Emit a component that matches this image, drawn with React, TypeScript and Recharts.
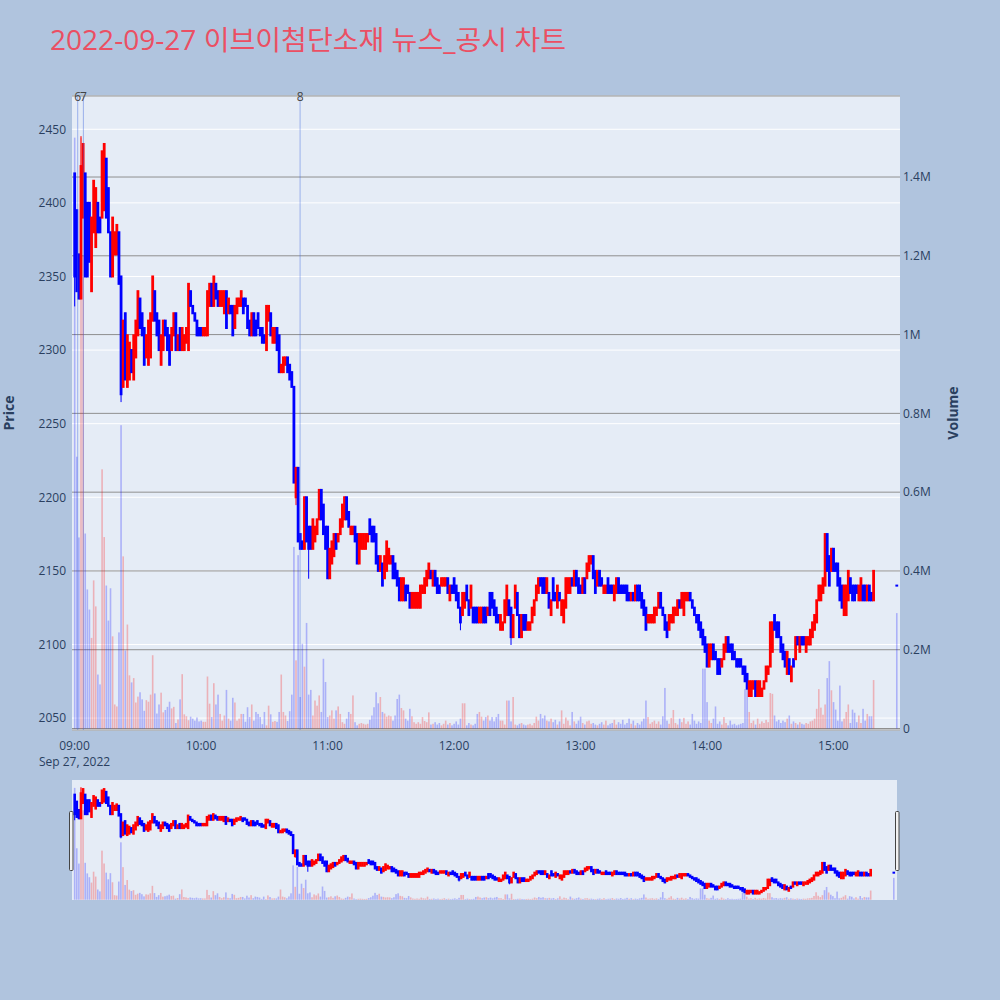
import React from 'react';
import { ComposedChart, Bar, XAxis, YAxis, CartesianGrid, ReferenceLine } from 'recharts';

// ---------------- data ----------------
const TITLE = '2022-09-27 이브이첨단소재 뉴스_공시 차트';
const DATE_LABEL = 'Sep 27, 2022';

// one candle per minute from 09:00 (minute 0) to 15:19 (minute 379), plus the 15:30 closing auction
const opens = [
  2420, 2395, 2365, 2335, 2390, 2420, 2400, 2400, 2340, 2380, 2370, 2400, 2390, 2390, 2395, 2430, 2410, 2380, 2350, 2365, 2365, 2380, 2350,
  2275, 2325, 2275, 2280, 2300, 2280, 2295, 2310, 2335, 2325, 2315, 2295, 2290, 2295, 2320, 2340, 2325, 2320, 2290, 2300, 2320, 2315, 2310, 2300, 2310, 2325, 2300, 2315, 2300,
  2300, 2305, 2300, 2340, 2330, 2325, 2320, 2315, 2315, 2310, 2310, 2310, 2330, 2345, 2330, 2345, 2340, 2330, 2330, 2325, 2340, 2325, 2330, 2330, 2315, 2325, 2330, 2330, 2335, 2335, 2330, 2320, 2310, 2325, 2320, 2325, 2315, 2315, 2310, 2300, 2320, 2325, 2305, 2305, 2315, 2310, 2285, 2285, 2290, 2295, 2290, 2285, 2275,
  2200, 2220, 2175, 2170, 2165, 2200, 2180, 2180, 2165, 2170, 2175, 2185, 2205, 2195, 2180, 2180, 2145, 2155, 2160, 2175, 2170, 2175, 2180, 2185, 2200, 2190, 2175, 2175, 2180, 2175, 2155, 2165, 2165, 2165, 2170, 2185, 2180, 2180, 2175, 2160, 2150, 2155, 2145, 2150, 2155, 2155, 2160, 2155, 2150, 2145, 2130, 2130,
  2140, 2140, 2135, 2125, 2125, 2125, 2125, 2125, 2135, 2135, 2140, 2145, 2150, 2140, 2150, 2145, 2140, 2140, 2140, 2140, 2145, 2130, 2140, 2145, 2140, 2135, 2125, 2120, 2125, 2140, 2130, 2125, 2125, 2125, 2125, 2115, 2115, 2125, 2125, 2120, 2135, 2135, 2130, 2125, 2120, 2110, 2110, 2115, 2120, 2130, 2125,
  2105, 2125, 2135, 2120, 2105, 2120, 2120, 2110, 2110, 2115, 2120, 2130, 2135, 2145, 2145, 2145, 2135, 2135, 2120, 2145, 2135, 2125, 2135, 2120, 2115, 2125, 2135, 2135, 2145, 2140, 2150, 2145, 2140, 2135, 2145, 2145, 2150, 2155, 2160, 2150, 2140, 2150, 2145, 2135, 2135, 2145, 2140, 2140, 2130, 2135, 2145, 2140, 2140, 2140, 2140, 2135, 2130, 2135,
  2130, 2140, 2140, 2135, 2130, 2125, 2115, 2115, 2115, 2115, 2120, 2125, 2135, 2125, 2120, 2115, 2110, 2115, 2115, 2120, 2120, 2130, 2125, 2120, 2130, 2130, 2135, 2130, 2125, 2120, 2120, 2115, 2110, 2105, 2100, 2085, 2090, 2100, 2095, 2090, 2090, 2085, 2090, 2095, 2105, 2100, 2100, 2095, 2090, 2090, 2090, 2085, 2085, 2080, 2065, 2065, 2070, 2075, 2065,
  2065, 2065, 2070, 2075, 2080, 2085, 2095, 2120, 2115, 2115, 2105, 2100, 2095, 2080, 2090, 2075, 2090, 2090, 2105, 2095, 2105, 2105, 2095, 2100, 2100, 2105, 2110, 2115, 2130, 2130, 2135, 2140, 2175, 2160, 2150, 2165, 2155, 2155, 2145, 2140, 2120, 2120, 2130, 2145, 2140, 2140, 2140, 2130, 2130, 2140, 2140, 2130, 2140, 2135, 2130,
  2140,
];
const closes = [
  2350, 2340, 2335, 2425, 2440, 2350, 2350, 2360, 2390, 2415, 2410, 2380, 2380, 2435, 2440, 2390, 2380, 2350, 2390, 2380, 2385, 2345, 2270,
  2320, 2280, 2310, 2305, 2285, 2310, 2320, 2340, 2315, 2310, 2290, 2310, 2320, 2325, 2350, 2320, 2310, 2300, 2310, 2320, 2310, 2300, 2290, 2315, 2325, 2300, 2310, 2300, 2315,
  2310, 2315, 2345, 2330, 2325, 2320, 2310, 2310, 2310, 2315, 2315, 2340, 2345, 2330, 2350, 2335, 2330, 2340, 2340, 2340, 2315, 2335, 2325, 2310, 2330, 2335, 2335, 2340, 2325, 2330, 2315, 2310, 2325, 2310, 2310, 2315, 2310, 2305, 2305, 2330, 2330, 2310, 2315, 2315, 2300, 2285, 2290, 2295, 2295, 2285, 2280, 2275, 2210,
  2220, 2170, 2165, 2165, 2200, 2170, 2165, 2165, 2185, 2180, 2185, 2205, 2185, 2175, 2165, 2145, 2165, 2170, 2175, 2165, 2175, 2185, 2195, 2200, 2185, 2180, 2180, 2180, 2170, 2155, 2175, 2175, 2175, 2175, 2175, 2175, 2170, 2170, 2155, 2150, 2160, 2140, 2160, 2170, 2165, 2160, 2145, 2145, 2140, 2130, 2145, 2145,
  2130, 2135, 2125, 2135, 2135, 2135, 2135, 2140, 2140, 2145, 2150, 2155, 2145, 2150, 2140, 2135, 2135, 2145, 2145, 2145, 2135, 2140, 2135, 2135, 2130, 2125, 2115, 2135, 2135, 2130, 2120, 2140, 2115, 2115, 2115, 2125, 2125, 2115, 2115, 2125, 2120, 2125, 2120, 2115, 2115, 2120, 2115, 2130, 2140, 2120, 2105,
  2120, 2140, 2120, 2105, 2120, 2110, 2110, 2115, 2115, 2125, 2130, 2140, 2145, 2140, 2135, 2135, 2145, 2125, 2130, 2130, 2130, 2140, 2130, 2130, 2130, 2145, 2145, 2145, 2140, 2150, 2140, 2135, 2135, 2145, 2135, 2155, 2160, 2160, 2145, 2135, 2150, 2140, 2140, 2140, 2140, 2135, 2135, 2135, 2140, 2145, 2135, 2135, 2135, 2135, 2130, 2130, 2135, 2130,
  2140, 2130, 2130, 2125, 2120, 2110, 2120, 2120, 2120, 2125, 2125, 2135, 2125, 2120, 2110, 2105, 2120, 2120, 2125, 2125, 2130, 2125, 2135, 2135, 2135, 2135, 2130, 2125, 2120, 2115, 2110, 2105, 2100, 2095, 2085, 2100, 2100, 2090, 2090, 2080, 2080, 2090, 2100, 2105, 2095, 2095, 2090, 2090, 2085, 2085, 2085, 2080, 2075, 2070, 2075, 2075, 2075, 2065, 2075,
  2075, 2070, 2075, 2085, 2085, 2115, 2115, 2110, 2105, 2105, 2095, 2090, 2085, 2095, 2080, 2085, 2085, 2105, 2100, 2105, 2100, 2100, 2105, 2105, 2110, 2115, 2120, 2130, 2140, 2140, 2145, 2175, 2150, 2140, 2165, 2150, 2150, 2140, 2130, 2125, 2140, 2140, 2150, 2135, 2130, 2130, 2135, 2140, 2145, 2130, 2130, 2140, 2130, 2130, 2150,
  2140,
];
// the few shadows (wicks) that reach clearly past the candle body
const wickMinutes = [0, 3, 22, 105, 111, 183, 207, 356];
const wickHighs = [2420, 2445, 2350, 2220, 2180, 2125, 2125, 2175];
const wickLows = [2330, 2335, 2265, 2195, 2145, 2110, 2100, 2140];

// traded volume per bar, in thousands of shares
const volumesK = [
  1500, 690, 485, 1500, 1200, 495, 353, 302, 230, 376, 310, 137, 112, 658, 486, 363, 274, 356, 234, 61, 56, 244, 770,
  437, 198, 264, 135, 117, 128, 66, 81, 92, 74, 45, 72, 68, 86, 186, 89, 38, 61, 91, 41, 47, 55, 68, 51, 55, 14, 23, 74, 138,
  36, 31, 21, 30, 25, 20, 28, 18,
  20, 17, 17, 132, 63, 29, 115, 61, 86, 37, 20, 33, 98, 25, 20, 78, 66, 20, 25, 37, 37, 17, 54, 29, 61, 20, 42, 37, 29, 11, 42, 8, 58, 36, 17, 19, 17, 42, 137, 42, 33, 19, 44, 86, 461, 173, 440, 80,
  215, 157, 268, 86, 98, 33, 71, 58, 84, 42, 177, 118, 29, 33, 46, 25, 46, 56, 37, 16, 12, 25, 42, 37, 84, 16, 8, 12, 14, 12, 10, 12, 22, 33, 54, 92, 64, 80, 42, 38, 30, 33, 31, 20, 33, 75, 86, 52, 46, 25, 20, 50, 31, 16, 12, 16, 12, 29, 19, 16, 41, 10,
  12, 16, 10, 14, 8, 12, 20, 10, 14, 8,
  12, 18, 10, 25, 64, 64, 8, 14, 10, 8,
  12, 37, 42, 30, 20, 29, 33, 20, 29, 18,
  29, 37, 20, 20, 10, 71, 71, 18, 80, 10,
  8, 12, 14, 10, 8, 10, 12, 8, 14, 30,
  20, 37, 26, 33, 20, 18, 25, 16, 22, 10,
  18, 46, 12, 28, 20, 8, 42, 18, 12, 20,
  30, 14, 10, 18, 20, 12, 14, 10, 8, 12,
  16, 10, 20, 8, 12, 14, 22, 10, 16, 12,
  22, 10, 14, 25, 12, 20, 8, 14, 10, 18,
  25, 71, 29, 12, 16, 20, 12, 18, 10, 31,
  103, 20, 12, 27, 47, 14, 10, 25, 16, 27,
  12, 18, 10, 37, 20, 12, 18, 14, 152, 152,
  67, 20, 14, 25, 56, 12, 18, 10, 29, 14,
  8, 20, 10, 12, 8, 10, 12, 14, 100, 100,
  42, 14, 20, 10, 25, 12, 18, 14, 22, 16,
  90, 88, 33, 18, 22, 14, 20, 16, 25, 33,
  12, 18, 14, 10, 16, 12, 10, 14, 12, 18,
  20, 25, 50, 100, 53, 35, 61, 128, 171, 97,
  67, 48, 20, 109, 18, 25, 42, 61, 14, 48,
  40, 16, 33, 14, 50, 20, 37, 31, 31, 123,
  293,
];
const closingAuctionMinute = 390;

const newsMinutes = [1.5, 4.2, 107];
const newsLabels = ['6', '7', '8'];

const timeTicks = [0, 60, 120, 180, 240, 300, 360];
const timeTickLabels = ['09:00', '10:00', '11:00', '12:00', '13:00', '14:00', '15:00'];
const priceTicks = [2050, 2100, 2150, 2200, 2250, 2300, 2350, 2400, 2450];
const volumeTicks = [0, 200000, 400000, 600000, 800000, 1000000, 1200000, 1400000];
const volumeTickLabels = ['0', '0.2M', '0.4M', '0.6M', '0.8M', '1M', '1.2M', '1.4M'];

const X_DOMAIN: [number, number] = [-1.2, 391.6];
const PRICE_DOMAIN: [number, number] = [2041.9, 2472.6];
const VOLUME_DOMAIN: [number, number] = [-3800, 1605700];

const rows = opens.map((o, i) => {
  const c = closes[i];
  const w = wickMinutes.indexOf(i);
  const hi = Math.max(o, c, w >= 0 ? wickHighs[w] : o);
  const lo = Math.min(o, c, w >= 0 ? wickLows[w] : o);
  return {
    t: i < opens.length - 1 ? i : closingAuctionMinute,
    o,
    c,
    hi,
    lo,
    range: [lo, hi],
    vol: volumesK[i] * 1000,
    up: c > o,
  };
});

// ---------------- styles ----------------
const PAGE_BG = '#B0C4DE';
const PLOT_BG = '#E5ECF6';
const RED = '#FF0000';
const BLUE = '#0000FF';
const TEXT = '#2a3f5f';
const FONT = '"Open Sans", "Noto Sans CJK KR", sans-serif';

// the bar spans [low, high]; the body is placed inside it proportionally
const makeCandle = (halfW: number, pad: number) => (props: any) => {
  const { x, y, width, height, payload } = props;
  if (x == null || y == null || !payload) return <g />;
  const cx = x + (width || 0) / 2;
  const hh = height || 0;
  const top = Math.min(y, y + hh);
  const h = Math.abs(hh);
  const { hi, lo, o, c } = payload;
  const pix = (v: number) => (hi === lo ? top : top + ((hi - v) / (hi - lo)) * h);
  const bTop = pix(Math.max(o, c));
  const bBot = pix(Math.min(o, c));
  const color = payload.up ? RED : BLUE;
  return (
    <g>
      <line x1={cx} x2={cx} y1={top - 0.5} y2={top + h + 0.5} stroke={color} strokeWidth={1} />
      <rect x={cx - halfW} y={bTop - pad} width={halfW * 2} height={bBot - bTop + pad * 2} fill={color} />
    </g>
  );
};

const makeVolume = (halfW: number) => (props: any) => {
  const { x, y, width, height, payload } = props;
  if (x == null || y == null || !payload) return <g />;
  const cx = x + (width || 0) / 2;
  const hh = height || 0;
  const top = Math.min(y, y + hh);
  return (
    <rect
      x={cx - halfW}
      y={top}
      width={halfW * 2}
      height={Math.abs(hh)}
      fill={payload.up ? 'rgba(255,0,0,0.25)' : 'rgba(0,0,255,0.25)'}
    />
  );
};

const MainCandle = makeCandle(1.4, 1);
const MainVolume = makeVolume(0.8);
const MiniCandle = makeCandle(1.3, 1);
const MiniVolume = makeVolume(0.8);

const TimeTick = (props: any) => {
  const { x, y, payload } = props;
  const idx = timeTicks.indexOf(payload.value);
  return (
    <g>
      <text x={x} y={y + 18} textAnchor="middle" fill={TEXT} fontSize={12} fontFamily={FONT}>
        {timeTickLabels[idx]}
      </text>
      {idx === 0 && (
        <text x={x} y={y + 34} textAnchor="middle" fill={TEXT} fontSize={12} fontFamily={FONT}>
          {DATE_LABEL}
        </text>
      )}
    </g>
  );
};

const NewsLabel = (text: string) => (props: any) => {
  const vb = props.viewBox || {};
  return (
    <text x={vb.x} y={(vb.y || 0) + 5} textAnchor="middle" fill="#444" fontSize={12} fontFamily={FONT}>
      {text}
    </text>
  );
};

export default function App() {
  return (
    <div style={{ position: 'fixed', left: 0, top: 0, width: 1000, height: 1000, background: PAGE_BG, overflow: 'hidden' }}>
      <div style={{ position: 'absolute', left: 0, top: 0 }}>
        <ComposedChart width={1000} height={780} data={rows} margin={{ top: 96, right: 0, bottom: 0, left: 0 }}>
          <CartesianGrid xAxisId="main" yAxisId="price" vertical={false} stroke="#FFFFFF" fill={PLOT_BG} fillOpacity={1} />
          <CartesianGrid xAxisId="main" yAxisId="vol" vertical={false} stroke="#8f8f8f" />
          <XAxis
            xAxisId="main"
            dataKey="t"
            type="number"
            domain={X_DOMAIN}
            allowDataOverflow
            ticks={timeTicks}
            tick={<TimeTick />}
            tickLine={false}
            axisLine={false}
            tickSize={0}
            height={50}
            interval={0}
          />
          <XAxis xAxisId="v" dataKey="t" type="number" domain={X_DOMAIN} allowDataOverflow hide />
          <YAxis
            yAxisId="price"
            orientation="left"
            type="number"
            domain={PRICE_DOMAIN}
            allowDataOverflow
            ticks={priceTicks}
            width={72}
            tickSize={0}
            tickMargin={6}
            tickLine={false}
            axisLine={false}
            tick={{ fill: TEXT, fontSize: 12, fontFamily: FONT }}
            interval={0}
          />
          <YAxis
            yAxisId="vol"
            orientation="right"
            type="number"
            domain={VOLUME_DOMAIN}
            allowDataOverflow
            ticks={volumeTicks}
            tickFormatter={(v: number) => volumeTickLabels[volumeTicks.indexOf(v)] ?? ''}
            width={100}
            tickSize={0}
            tickMargin={3}
            tickLine={false}
            axisLine={false}
            tick={{ fill: TEXT, fontSize: 12, fontFamily: FONT }}
            interval={0}
          />
          <Bar xAxisId="v" yAxisId="vol" dataKey="vol" shape={MainVolume} isAnimationActive={false} />
          {newsMinutes.map((m, i) => (
            <ReferenceLine
              key={'n' + i}
              xAxisId="main"
              yAxisId="price"
              x={m}
              stroke="rgba(65,105,225,0.45)"
              strokeWidth={1}
              label={NewsLabel(newsLabels[i])}
            />
          ))}
          <Bar xAxisId="main" yAxisId="price" dataKey="range" shape={MainCandle} isAnimationActive={false} />
        </ComposedChart>
      </div>

      <div style={{ position: 'absolute', left: 72, top: 780, width: 825, height: 120, background: PLOT_BG }}>
        <ComposedChart width={825} height={120} data={rows} margin={{ top: 0, right: 0, bottom: 0, left: 0 }}>
          <XAxis xAxisId="m" dataKey="t" type="number" domain={X_DOMAIN} allowDataOverflow hide />
          <XAxis xAxisId="mv" dataKey="t" type="number" domain={X_DOMAIN} allowDataOverflow hide />
          <YAxis yAxisId="mp" type="number" domain={PRICE_DOMAIN} allowDataOverflow hide />
          <YAxis yAxisId="mvol" type="number" domain={VOLUME_DOMAIN} allowDataOverflow hide />
          <Bar xAxisId="mv" yAxisId="mvol" dataKey="vol" shape={MiniVolume} isAnimationActive={false} />
          <Bar xAxisId="m" yAxisId="mp" dataKey="range" shape={MiniCandle} isAnimationActive={false} />
        </ComposedChart>
      </div>

      <svg width={1000} height={1000} style={{ position: 'absolute', left: 0, top: 0, pointerEvents: 'none' }}>
        <text x={50} y={50} fill="#EB4F63" fontSize={27} fontFamily={FONT} textLength={516} lengthAdjust="spacingAndGlyphs">
          {TITLE}
        </text>
        <text
          x={0}
          y={0}
          transform="translate(14,413) rotate(-90)"
          textAnchor="middle"
          fill={TEXT}
          fontSize={14}
          fontWeight="bold"
          fontFamily={FONT}
        >
          Price
        </text>
        <text
          x={0}
          y={0}
          transform="translate(958,413) rotate(-90)"
          textAnchor="middle"
          fill={TEXT}
          fontSize={14}
          fontWeight="bold"
          fontFamily={FONT}
        >
          Volume
        </text>
        <rect x={69.5} y={811.5} width={3.5} height={59} fill="#f2f2f2" stroke="#444" strokeWidth={1} rx={1} />
        <rect x={895.5} y={811.5} width={3.5} height={59} fill="#f2f2f2" stroke="#444" strokeWidth={1} rx={1} />
      </svg>
    </div>
  );
}
